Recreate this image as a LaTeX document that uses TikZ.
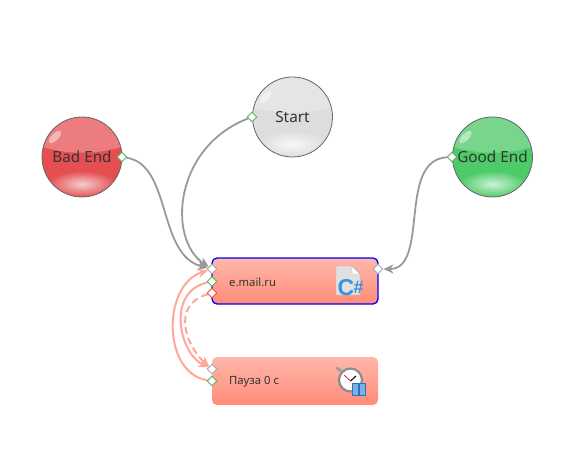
\documentclass[tikz,border=0pt]{standalone}
\usepackage{fontspec}
\setmainfont{Noto Sans}
\newfontfamily\iconfont{Liberation Sans}
\usetikzlibrary{shapes.geometric,backgrounds,arrows.meta}

\definecolor{linkgray}{HTML}{999999}
\definecolor{linkpink}{HTML}{FFA898}
\definecolor{boxtop}{HTML}{FFB7AA}
\definecolor{boxbottom}{HTML}{FF8C78}
\definecolor{txtdark}{HTML}{333333}
\definecolor{iconblue}{HTML}{3C90DC}
\definecolor{portgreen}{HTML}{5DAE5D}
\definecolor{portred}{HTML}{F04848}
\definecolor{badbase}{HTML}{E54F52}
\definecolor{badcap}{HTML}{EC7C7E}
\definecolor{badglow}{HTML}{F6CDCF}
\definecolor{startbase}{HTML}{DDDDDD}
\definecolor{startcap}{HTML}{E5E5E5}
\definecolor{startglow}{HTML}{F8F8F8}
\definecolor{goodbase}{HTML}{4DCB68}
\definecolor{goodcap}{HTML}{78D68C}
\definecolor{goodglow}{HTML}{CDF2D6}

\tikzset{
  sphere/.style={
    circle, minimum size=80pt, inner sep=0pt, draw=black!60, line width=0.8pt,
    text=txtdark, font=\fontsize{15.3}{17}\selectfont
  },
  taskbox/.style={
    rectangle, rounded corners=5pt, minimum width=166pt, inner sep=0pt,
    top color=boxtop, bottom color=boxbottom
  },
  tasklabel/.style={text=txtdark, font=\fontsize{11.3}{13}\selectfont, anchor=west, inner sep=0pt},
  port/.style={diamond, draw=#1, fill=white, line width=0.9pt, inner sep=0pt, minimum size=10pt},
  port/.default={black!35},
  link/.style={draw=linkgray, line width=1.8pt, -{Stealth[length=10pt,width=9pt]}},
  backlink/.style={draw=linkpink, line width=2pt, -{Stealth[length=10pt,width=9pt]}}
}

\begin{document}
\begin{tikzpicture}[x=1pt, y=-1pt]
  \useasboundingbox (0, 0) rectangle (577, 462);

  % Spheres
  \node[sphere] (badEnd) at (82, 157) {Bad End};
  \node[sphere] (start) at (292.5, 117) {Start};
  \node[sphere] (goodEnd) at (492.5, 157) {Good End};

  % Task boxes
  \node[taskbox, minimum height=46pt, draw=blue, line width=1.3pt] (mailBox) at (295, 281) {};
  \node[taskbox, minimum height=48pt] (pauseBox) at (295, 381) {};
  \node[tasklabel] (mailText) at (229, 282) {e.mail.ru};
  \node[tasklabel] (pauseText) at (229, 382) {Пауза 0 с};

  % Ports
  \node[port=portgreen] (badOut) at (122, 157) {};
  \node[port=portgreen] (startOut) at (252, 117) {};
  \node[port=portgreen] (goodOut) at (452, 157) {};
  \node[port] (mailIn) at (212, 269) {};
  \node[port=portgreen] (mailOk) at (212, 281.5) {};
  \node[port=portred] (mailFail) at (212, 293) {};
  \node[port] (mailRight) at (378, 269) {};
  \node[port] (pauseIn) at (212, 369) {};
  \node[port=portgreen] (pauseOk) at (212, 381) {};

  \begin{scope}[on background layer]
    % Sphere shading
    \foreach \ball/\basecol/\capcol/\glowcol in {badEnd/badbase/badcap/badglow, start/startbase/startcap/startglow, goodEnd/goodbase/goodcap/goodglow} {
      \begin{scope}[shift={(\ball.center)}]
        \clip (0, 0) circle (40);
        \fill[\basecol] (0, 0) circle (40);
        \shade[inner color=\glowcol, outer color=\basecol] (0, 27) ellipse (34 and 13);
        \fill[\capcol] (-42, -11) .. controls (-15, -2) and (15, -2) .. (42, -11) -- (42, -42) -- (-42, -42) -- cycle;
        \fill[white, opacity=0.45, rotate around={45:(-27, -20)}] (-27, -20) ellipse (8 and 3.5);
      \end{scope}
    }
    % Connectors
    \draw[link] (badOut) .. controls +(50, 8) and +(-55, -14) .. (mailIn);
    \draw[link] (startOut) .. controls +(-78, 30) and +(-45, -30) .. (mailIn);
    \draw[link] (goodOut) .. controls +(-55, 3) and +(52, 0) .. (mailRight);
    \draw[backlink] (mailOk) .. controls +(-46, 10) and +(-33, -16) .. (pauseIn);
    \draw[backlink, dash pattern=on 7pt off 4pt] (mailFail) .. controls +(-42, 12) and +(-25, -22) .. (pauseIn);
    \draw[backlink] (pauseOk) .. controls +(-50, -8) and +(-50, 16) .. (mailIn);
  \end{scope}

  % C# icon
  \fill[black!12, draw=black!30] (336, 266) -- (352, 266) -- (360, 274) -- (360, 295) -- (336, 295) -- cycle;
  \fill[white, draw=black!30] (352, 266) -- (352, 274) -- (360, 274) -- cycle;
  \node[text=iconblue, font=\iconfont\bfseries\fontsize{23}{24}\selectfont, inner sep=0pt] (csLetter) at (346, 287.5) {C};
  \node[text=iconblue, font=\iconfont\bfseries\fontsize{18}{19}\selectfont, inner sep=0pt] (csSharp) at (358.5, 287) {\#};

  % Stopwatch icon
  \draw[black!40, line width=2.5pt] (341, 371) -- (336.5, 367.5);
  \fill[white, draw=black!45, line width=2.2pt] (350.5, 380) circle (11.5);
  \draw[red!80!black, line width=0.6pt] (350.5, 381) -- (344, 375);
  \draw[black, line width=1pt] (350.5, 381) -- (356, 376);
  \fill[iconblue!70, draw=iconblue!80!black] (352.5, 383) rectangle (358, 395);
  \fill[iconblue!70, draw=iconblue!80!black] (359.5, 383) rectangle (365, 395);
\end{tikzpicture}
\end{document}
